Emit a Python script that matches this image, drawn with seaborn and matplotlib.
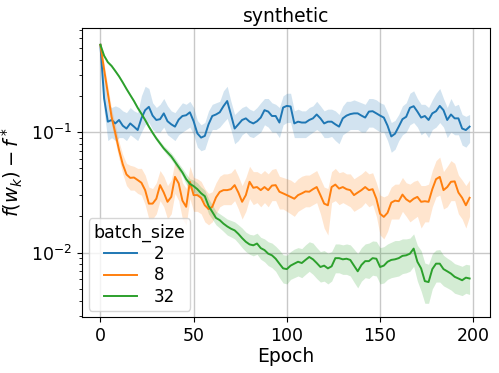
import numpy as np
import pandas as pd
import matplotlib
matplotlib.use("Agg")
import matplotlib.pyplot as plt
import seaborn as sns

# epochs sampled every 2 steps
epochs = list(range(0, 200, 2))

# batch_size = 2
loss_b2 = [0.53, 0.19, 0.122, 0.126, 0.118, 0.126, 0.113, 0.107, 0.118, 0.111,
           0.104, 0.130, 0.152, 0.162, 0.137, 0.126, 0.128, 0.143, 0.123, 0.116,
           0.111, 0.127, 0.136, 0.138, 0.146, 0.123, 0.0975, 0.090, 0.093, 0.116,
           0.136, 0.140, 0.146, 0.164, 0.181, 0.140, 0.107, 0.116, 0.126, 0.130,
           0.122, 0.118, 0.123, 0.132, 0.152, 0.148, 0.136, 0.136, 0.120, 0.160,
           0.165, 0.163, 0.118, 0.122, 0.120, 0.120, 0.126, 0.130, 0.140, 0.130,
           0.118, 0.122, 0.122, 0.116, 0.111, 0.130, 0.137, 0.141, 0.143, 0.143,
           0.137, 0.132, 0.148, 0.149, 0.143, 0.137, 0.132, 0.113, 0.092, 0.097,
           0.111, 0.128, 0.134, 0.159, 0.164, 0.148, 0.132, 0.136, 0.126, 0.143,
           0.149, 0.165, 0.152, 0.126, 0.140, 0.130, 0.130, 0.107, 0.104, 0.111]
lo_b2 = [0.50, 0.15, 0.085, 0.09, 0.085, 0.09, 0.09, 0.085, 0.095, 0.09,
         0.085, 0.10, 0.115, 0.12, 0.105, 0.10, 0.10, 0.11, 0.095, 0.09,
         0.085, 0.095, 0.10, 0.105, 0.11, 0.095, 0.075, 0.07, 0.072, 0.09,
         0.105, 0.105, 0.11, 0.12, 0.13, 0.105, 0.08, 0.085, 0.095, 0.10,
         0.092, 0.09, 0.095, 0.10, 0.115, 0.11, 0.10, 0.10, 0.09, 0.115,
         0.12, 0.12, 0.09, 0.09, 0.09, 0.09, 0.095, 0.10, 0.105, 0.10,
         0.09, 0.09, 0.092, 0.085, 0.08, 0.095, 0.10, 0.105, 0.105, 0.105,
         0.10, 0.10, 0.11, 0.11, 0.105, 0.10, 0.10, 0.085, 0.068, 0.072,
         0.085, 0.095, 0.10, 0.115, 0.12, 0.11, 0.095, 0.10, 0.09, 0.105,
         0.11, 0.12, 0.11, 0.09, 0.10, 0.095, 0.095, 0.078, 0.075, 0.082]
hi_b2 = [0.57, 0.30, 0.17, 0.16, 0.165, 0.16, 0.15, 0.145, 0.16, 0.15,
         0.145, 0.20, 0.24, 0.23, 0.175, 0.16, 0.17, 0.19, 0.165, 0.15,
         0.145, 0.16, 0.175, 0.17, 0.18, 0.16, 0.125, 0.115, 0.12, 0.15,
         0.17, 0.175, 0.18, 0.22, 0.24, 0.18, 0.14, 0.15, 0.16, 0.165,
         0.155, 0.15, 0.16, 0.175, 0.19, 0.19, 0.175, 0.17, 0.16, 0.20,
         0.21, 0.21, 0.15, 0.155, 0.15, 0.15, 0.16, 0.165, 0.18, 0.165,
         0.15, 0.155, 0.155, 0.15, 0.14, 0.165, 0.18, 0.18, 0.185, 0.18,
         0.175, 0.17, 0.19, 0.19, 0.185, 0.175, 0.17, 0.145, 0.12, 0.125,
         0.14, 0.165, 0.175, 0.21, 0.22, 0.19, 0.17, 0.17, 0.16, 0.185,
         0.21, 0.23, 0.19, 0.16, 0.19, 0.165, 0.17, 0.14, 0.135, 0.14]

# batch_size = 8
loss_b8 = [0.53, 0.33, 0.21, 0.134, 0.098, 0.071, 0.054, 0.0445, 0.0417, 0.042,
           0.040, 0.038, 0.033, 0.0255, 0.0255, 0.028, 0.0363, 0.0315, 0.0264, 0.029,
           0.0425, 0.0375, 0.027, 0.024, 0.0387, 0.030, 0.030, 0.0285, 0.0247, 0.023,
           0.024, 0.0287, 0.0319, 0.033, 0.033, 0.0336, 0.0363, 0.0315, 0.0264, 0.030,
           0.0387, 0.0345, 0.035, 0.033, 0.035, 0.033, 0.036, 0.0363, 0.032, 0.031,
           0.030, 0.029, 0.028, 0.030, 0.031, 0.0322, 0.032, 0.0336, 0.035, 0.030,
           0.0255, 0.0247, 0.035, 0.0367, 0.034, 0.035, 0.0336, 0.033, 0.030, 0.0315,
           0.033, 0.035, 0.033, 0.0336, 0.028, 0.021, 0.0198, 0.0214, 0.026, 0.027,
           0.0267, 0.0303, 0.0277, 0.0264, 0.028, 0.029, 0.0264, 0.0267, 0.0264, 0.0336,
           0.0407, 0.0425, 0.033, 0.035, 0.0387, 0.039, 0.0315, 0.0285, 0.0247, 0.0285]
lo_b8 = [0.50, 0.29, 0.18, 0.115, 0.083, 0.06, 0.045, 0.036, 0.033, 0.033,
         0.031, 0.03, 0.025, 0.019, 0.019, 0.021, 0.027, 0.024, 0.019, 0.021,
         0.031, 0.027, 0.019, 0.017, 0.028, 0.022, 0.022, 0.021, 0.018, 0.017,
         0.018, 0.021, 0.024, 0.025, 0.025, 0.025, 0.027, 0.023, 0.019, 0.022,
         0.028, 0.025, 0.026, 0.024, 0.026, 0.024, 0.027, 0.027, 0.023, 0.023,
         0.022, 0.021, 0.02, 0.022, 0.023, 0.024, 0.024, 0.025, 0.026, 0.021,
         0.016, 0.014, 0.026, 0.027, 0.025, 0.026, 0.025, 0.024, 0.022, 0.023,
         0.024, 0.026, 0.024, 0.025, 0.02, 0.014, 0.013, 0.015, 0.019, 0.019,
         0.019, 0.022, 0.02, 0.018, 0.019, 0.02, 0.016, 0.018, 0.018, 0.024,
         0.029, 0.03, 0.023, 0.024, 0.027, 0.027, 0.021, 0.019, 0.016, 0.02]
hi_b8 = [0.56, 0.37, 0.24, 0.155, 0.115, 0.083, 0.065, 0.055, 0.053, 0.052,
         0.05, 0.05, 0.044, 0.035, 0.034, 0.038, 0.048, 0.043, 0.036, 0.040,
         0.057, 0.052, 0.038, 0.034, 0.052, 0.042, 0.041, 0.039, 0.034, 0.031,
         0.032, 0.038, 0.043, 0.045, 0.045, 0.046, 0.05, 0.043, 0.036, 0.042,
         0.052, 0.047, 0.047, 0.045, 0.048, 0.045, 0.049, 0.05, 0.043, 0.042,
         0.041, 0.04, 0.038, 0.041, 0.043, 0.044, 0.044, 0.046, 0.048, 0.041,
         0.035, 0.034, 0.047, 0.05, 0.046, 0.047, 0.045, 0.045, 0.041, 0.043,
         0.045, 0.048, 0.045, 0.046, 0.038, 0.03, 0.029, 0.03, 0.035, 0.037,
         0.037, 0.042, 0.038, 0.037, 0.039, 0.04, 0.036, 0.036, 0.037, 0.048,
         0.058, 0.062, 0.047, 0.052, 0.058, 0.055, 0.044, 0.04, 0.036, 0.04]

# batch_size = 32
loss_b32 = [0.53, 0.43, 0.38, 0.354, 0.321, 0.29, 0.258, 0.228, 0.203, 0.181,
            0.159, 0.142, 0.126, 0.111, 0.0987, 0.0886, 0.0805, 0.0732, 0.0678, 0.0628,
            0.0567, 0.0512, 0.0462, 0.0407, 0.0372, 0.0356, 0.0336, 0.0311, 0.0294, 0.0244,
            0.0218, 0.0194, 0.0186, 0.0174, 0.0165, 0.0158, 0.0153, 0.0143, 0.0132, 0.0123,
            0.0117, 0.0115, 0.0119, 0.0109, 0.0105, 0.0098, 0.0095, 0.0089, 0.0081, 0.0074,
            0.0073, 0.0078, 0.0081, 0.0084, 0.0082, 0.0087, 0.0092, 0.0088, 0.0082, 0.0076,
            0.0078, 0.0074, 0.0077, 0.0090, 0.0090, 0.0088, 0.0089, 0.0087, 0.0078, 0.0070,
            0.0079, 0.0085, 0.0085, 0.0090, 0.0089, 0.0076, 0.0078, 0.0084, 0.0087, 0.0088,
            0.0090, 0.0094, 0.0095, 0.0098, 0.0108, 0.0084, 0.0074, 0.0058, 0.0057, 0.0073,
            0.0081, 0.0081, 0.0073, 0.0070, 0.0067, 0.0063, 0.0061, 0.0059, 0.0062, 0.0061]
lo_b32 = [0.51, 0.42, 0.37, 0.345, 0.313, 0.283, 0.252, 0.222, 0.198, 0.176,
          0.155, 0.138, 0.122, 0.107, 0.095, 0.085, 0.077, 0.07, 0.064, 0.059,
          0.053, 0.048, 0.043, 0.037, 0.034, 0.032, 0.030, 0.028, 0.026, 0.021,
          0.019, 0.017, 0.016, 0.015, 0.014, 0.0135, 0.013, 0.012, 0.011, 0.0102,
          0.0097, 0.0094, 0.0097, 0.0088, 0.0084, 0.0078, 0.0075, 0.007, 0.0062, 0.0056,
          0.0055, 0.006, 0.0062, 0.0064, 0.0062, 0.0066, 0.007, 0.0066, 0.0061, 0.0057,
          0.0058, 0.0055, 0.0058, 0.0068, 0.0068, 0.0066, 0.0066, 0.0064, 0.0057, 0.0051,
          0.0058, 0.0062, 0.0061, 0.0065, 0.0064, 0.0055, 0.0056, 0.006, 0.0062, 0.0063,
          0.0064, 0.0067, 0.0068, 0.007, 0.0077, 0.0058, 0.0048, 0.0038, 0.0038, 0.005,
          0.0057, 0.0057, 0.0053, 0.0051, 0.0049, 0.0046, 0.0045, 0.0044, 0.0046, 0.0045]
hi_b32 = [0.55, 0.44, 0.39, 0.363, 0.329, 0.297, 0.264, 0.234, 0.208, 0.186,
          0.163, 0.146, 0.13, 0.115, 0.102, 0.092, 0.084, 0.077, 0.072, 0.067,
          0.061, 0.055, 0.050, 0.045, 0.041, 0.040, 0.038, 0.035, 0.033, 0.028,
          0.025, 0.022, 0.021, 0.020, 0.019, 0.0185, 0.018, 0.017, 0.016, 0.0148,
          0.0142, 0.014, 0.0145, 0.0134, 0.013, 0.0123, 0.012, 0.0113, 0.0105, 0.0096,
          0.0095, 0.0102, 0.0107, 0.011, 0.0108, 0.0116, 0.0123, 0.012, 0.011, 0.0102,
          0.0104, 0.0099, 0.0102, 0.0118, 0.0118, 0.0116, 0.0118, 0.0116, 0.0107, 0.0098,
          0.011, 0.0118, 0.012, 0.0125, 0.0124, 0.011, 0.0112, 0.0118, 0.0122, 0.0126,
          0.0126, 0.013, 0.013, 0.0132, 0.0143, 0.0115, 0.0104, 0.0082, 0.008, 0.0098,
          0.0105, 0.0106, 0.0095, 0.009, 0.0086, 0.0081, 0.0079, 0.0077, 0.008, 0.0079]

batch_sizes = [2, 8, 32]
means = {2: loss_b2, 8: loss_b8, 32: loss_b32}
lows = {2: lo_b2, 8: lo_b8, 32: lo_b32}
highs = {2: hi_b2, 8: hi_b8, 32: hi_b32}

rows = []
for bs in batch_sizes:
    for e, v in zip(epochs, means[bs]):
        rows.append({"Epoch": e, "loss": v, "batch_size": str(bs)})
df = pd.DataFrame(rows)

palette = ["#1f77b4", "#ff7f0e", "#2ca02c"]

fig, ax = plt.subplots(figsize=(4.99, 3.73), dpi=100)
sns.lineplot(data=df, x="Epoch", y="loss", hue="batch_size", palette=palette,
             linewidth=1.4, ax=ax)
for bs, c in zip(batch_sizes, palette):
    ax.fill_between(epochs, lows[bs], highs[bs], color=c, alpha=0.2, linewidth=0)

ax.set_yscale("log")
ax.set_ylim(0.0029, 0.736)
ax.set_xlim(-9.95, 208.95)
ax.set_xticks([0, 50, 100, 150, 200])
ax.grid(True, which="major", color="#c8c8c8", linewidth=1)
ax.set_axisbelow(True)
ax.tick_params(axis="both", which="major", labelsize=12.5)
ax.set_xlabel("Epoch", fontsize=13.5, labelpad=1)
ax.set_ylabel(r"$f(w_k) - f^*$", fontsize=14, labelpad=4)
ax.set_title("synthetic", fontsize=13.5, pad=4)

handles, labels = ax.get_legend_handles_labels()
leg = ax.legend(handles, labels, title="batch_size", loc="lower left",
                fontsize=12, title_fontsize=12.5, handlelength=2.0,
                handletextpad=1.0, labelspacing=0.2, borderpad=0.3,
                borderaxespad=0.4, alignment="center")

plt.subplots_adjust(left=0.164, right=0.982, top=0.926, bottom=0.149)
plt.savefig("out.png", dpi=100)
